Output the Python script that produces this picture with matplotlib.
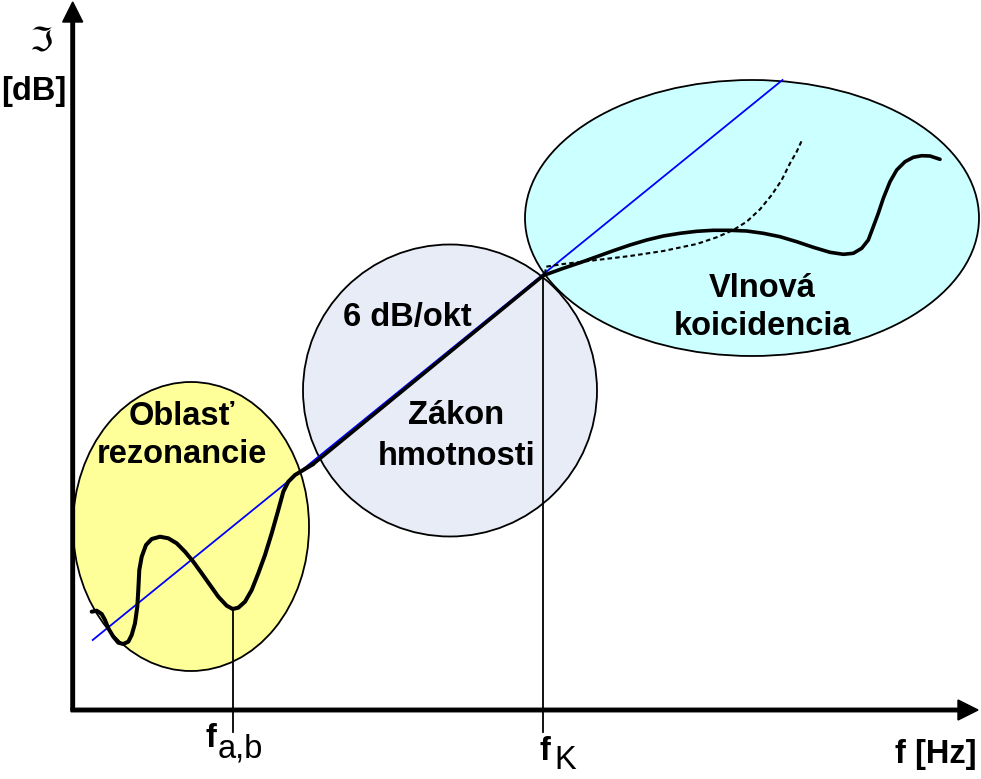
"""Sound insulation of a single wall vs. frequency (schematic)."""

import numpy as np
import matplotlib
matplotlib.use("Agg")
import matplotlib.pyplot as plt
from matplotlib.patches import Ellipse

# Picture is laid out in pixel units (x right, y down)
W, H = 981, 779

# Regions: (center x, center y, width, height, colour)
resonance_region = (191, 526.5, 236, 289, "#FFFF99")
mass_region = (450, 390.5, 294, 292, "#E8ECF7")
coincidence_region = (752, 218, 454, 276, "#CCFFFF")

# Mass-law reference line (blue)
ref_x = [92.7, 782.5]
ref_y = [640, 80]

# Resonance region curve
res_x = [91.7, 96.7, 101.7, 105, 108.3, 113.3, 118.3, 123.3, 128.3, 131.7,
         135, 137.3, 138.3, 139.3, 141.7, 146, 151.7, 160, 168.3, 176.7,
         185, 193.3, 201.7, 210, 218.3, 226.7, 232.7, 238.3, 245, 251.7,
         258.3, 265, 271.7, 278.3, 283.3, 288.3, 295, 303.3, 313.3]
res_y = [611.7, 610.7, 614, 620, 628.3, 636.7, 642.7, 644, 641.7, 635,
         623.3, 606.7, 590, 570, 556.7, 545, 539, 536.7, 538.3, 543.3,
         551.7, 561.7, 573.3, 585, 596.7, 605.7, 609, 607.7, 601.7, 590,
         573.3, 555, 533.3, 510, 491.7, 481.7, 475, 470, 464]

# Mass law segment (6 dB/oct) up to critical frequency
mass_x = [313.3, 543.3]
mass_y = [464, 275.5]

# Coincidence region curve
coin_x = [543.3, 563.3, 580, 596.7, 613.3, 630, 646.7, 663.3, 680, 696.7,
          713.3, 730, 746.7, 763.3, 780, 796.7, 813.3, 830, 843.3, 853.3,
          861.7, 868.3, 873.3, 878.3, 883.3, 890, 896.7, 905, 913.3, 921.7,
          930, 940]
coin_y = [275.5, 268.3, 262.7, 256.7, 250.7, 245, 240, 236, 233.3, 231.3,
          230.3, 230.3, 231, 233.3, 236.7, 241.7, 247.3, 252.3, 254.3, 253.3,
          248.3, 240, 226.7, 213.3, 198.3, 181.7, 170, 161.7, 157.3, 155.7,
          156, 159.3]

# Dotted curve (damping-free variant)
dot_x = [545, 546, 563.3, 596.7, 630, 663.3, 696.7, 716.7, 733.3, 746.7,
         760, 771.7, 781.7, 790, 796.7, 801.7]
dot_y = [274, 266.7, 264, 260, 256, 251, 244, 237.3, 230, 221.7,
         209.3, 195, 180, 163.3, 151.7, 140.7]

# Characteristic frequencies: x, top of marker line
f_ab = (232.7, 609)
f_k = (543.3, 275.5)

# Axes
origin = (72.7, 710)
y_axis_end = 2
x_axis_end = 978

plt.rcParams["font.family"] = ["Liberation Sans", "DejaVu Sans"]

fig = plt.figure(figsize=(W / 100, H / 100), dpi=100)
ax = fig.add_axes([0, 0, 1, 1])
ax.set_xlim(0, W)
ax.set_ylim(H, 0)
ax.axis("off")

for cx, cy, w, h, col in (coincidence_region, mass_region, resonance_region):
    ax.add_patch(Ellipse((cx, cy), w, h, facecolor=col, edgecolor="black",
                         lw=1.3, zorder=1))

# axes with arrows
ax.arrow(origin[0], origin[1], 0, y_axis_end - origin[1], width=3.5,
         head_width=20, head_length=20, length_includes_head=True,
         color="black", zorder=5)
ax.arrow(origin[0] - 1.7, origin[1], x_axis_end - origin[0] + 1.7, 0, width=3.5,
         head_width=20, head_length=20, length_includes_head=True,
         color="black", zorder=5)

ax.plot(ref_x, ref_y, color="#0000FF", lw=1.3, zorder=3)
ax.plot(res_x, res_y, color="black", lw=2.9, zorder=4,
        solid_joinstyle="round", solid_capstyle="round")
ax.plot(mass_x, mass_y, color="black", lw=2.6, zorder=4)
ax.plot(coin_x, coin_y, color="black", lw=2.6, zorder=4,
        solid_joinstyle="round", solid_capstyle="round")
ax.plot(dot_x, dot_y, color="black", lw=1.5, ls=(0, (2.2, 1.5)), zorder=4)

# marker lines down to the frequency axis
for fx, fy in (f_ab, f_k):
    ax.plot([fx, fx], [fy, 732], color="black", lw=1.3, zorder=4)

fs = 23.5
bold = dict(fontsize=fs, fontweight="bold", va="baseline", zorder=6)
ax.text(182, 425, "Oblasť", ha="center", **bold)
ax.text(182, 463, "rezonancie", ha="center", **bold)
ax.text(407, 326, "6 dB/okt", ha="center", **bold)
ax.text(456, 424, "Zákon", ha="center", **bold)
ax.text(456.5, 465, "hmotnosti", ha="center", **bold)
ax.text(762, 297, "Vlnová", ha="center", **bold)
ax.text(762, 335, "koicidencia", ha="center", **bold)

# axis labels
ax.text(977, 763, "f [Hz]", ha="right", **bold)
ax.text(1.5, 99.5, "[dB]", ha="left", **bold)
ax.text(41, 42, "\u2111", ha="center", va="center", fontsize=24,
        family=["DejaVu Sans"], zorder=6)

ax.text(205.5, 747, "f", ha="left", **bold)
ax.text(217.5, 757.7, "a,b", ha="left", fontsize=fs, va="baseline", zorder=6)
ax.text(539.5, 760, "f", ha="left", **bold)
ax.text(554, 769, "K", ha="left", fontsize=fs, va="baseline", zorder=6)

fig.savefig("out.png", dpi=100)
